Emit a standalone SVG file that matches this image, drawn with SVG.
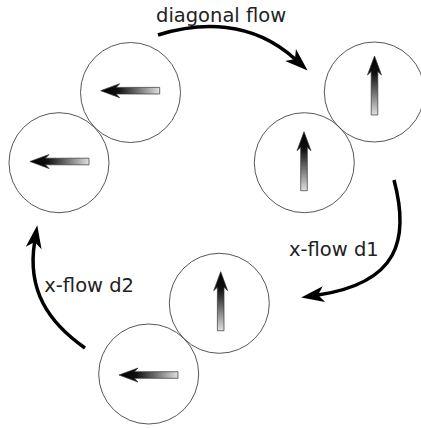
<svg xmlns="http://www.w3.org/2000/svg" width="421" height="428" viewBox="0 0 421 428">
<defs>
<linearGradient id="g" x1="0" y1="0" x2="1" y2="0">
<stop offset="0" stop-color="#000"/>
<stop offset="0.3" stop-color="#111"/>
<stop offset="1" stop-color="#e0e0e0"/>
</linearGradient>
<marker id="head" markerUnits="userSpaceOnUse" markerWidth="30" markerHeight="20" refX="6" refY="0" orient="auto" overflow="visible">
<path d="M0,-8 L23,0 L0,8 L6,0 Z" fill="#000"/>
</marker>
<path id="sa" d="M0,0 L19,-7 L15.5,-3.3 L59,-3.3 L59,3.3 L15.5,3.3 L19,7 Z"/>
</defs>
<style>
.c{fill:none;stroke:#444;stroke-width:0.9}
.a{fill:url(#g);stroke:#333;stroke-width:0.7}
.e{fill:none;stroke:#000;stroke-width:3.5;marker-end:url(#head)}
.t{font-family:"DejaVu Sans",sans-serif;font-size:19.5px;fill:#222}
</style>
<rect width="421" height="428" fill="#fff"/>
<g id="nodeA"><circle class="c" cx="130.5" cy="92.5" r="50"/><use href="#sa" class="a" transform="translate(100.7,90.7)"/></g>
<g id="nodeB"><circle class="c" cx="59" cy="162.7" r="50"/><use href="#sa" class="a" transform="translate(30,161.5)"/></g>
<g id="nodeC"><circle class="c" cx="374.3" cy="92" r="50"/><use href="#sa" class="a" transform="translate(374.5,56) rotate(90)"/></g>
<g id="nodeD"><circle class="c" cx="304.3" cy="162.7" r="50"/><use href="#sa" class="a" transform="translate(304,131.7) rotate(90)"/></g>
<g id="nodeE"><circle class="c" cx="219.3" cy="303.3" r="50"/><use href="#sa" class="a" transform="translate(220.7,271.7) rotate(90)"/></g>
<g id="nodeF"><circle class="c" cx="148.7" cy="374" r="50"/><use href="#sa" class="a" transform="translate(119,375)"/></g>
<g id="connectors">
<path class="e" d="M158,35 C200,22 252,20 295,59"/>
<path class="e" d="M394,180 C410,240 398,283 318,295"/>
<path class="e" d="M85,348 C48,322 27,290 34.6,242"/>
</g>
<g id="labels">
<text class="t" x="156" y="21.7">diagonal flow</text>
<text class="t" x="289" y="256">x-flow d1</text>
<text class="t" x="44.3" y="291.7">x-flow d2</text>
</g>
</svg>
